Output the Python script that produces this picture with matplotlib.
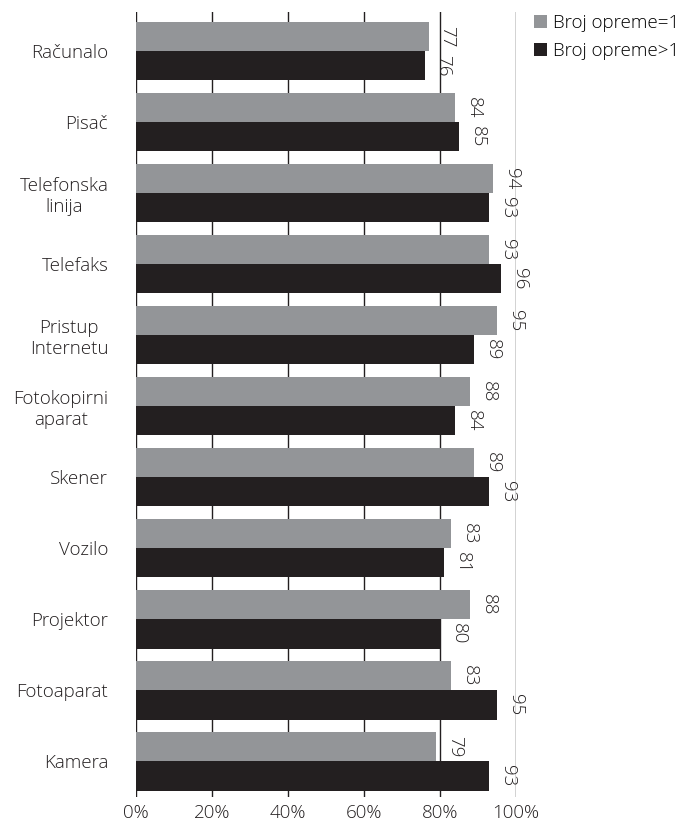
import numpy as np
import matplotlib
matplotlib.use("Agg")
import matplotlib.pyplot as plt

plt.rcParams['font.family'] = ['Open Sans', 'DejaVu Sans']

categories = ["Računalo", "Pisač", "Telefonska\nlinija", "Telefaks", "Pristup\nInternetu",
              "Fotokopirni\naparat", "Skener", "Vozilo", "Projektor", "Fotoaparat", "Kamera"]
jedna = [77, 84, 94, 93, 95, 88, 89, 83, 88, 83, 79]      # Broj opreme=1
vise = [76, 85, 93, 96, 89, 84, 93, 81, 80, 95, 93]       # Broj opreme>1
series_names = ["Broj opreme=1", "Broj opreme>1"]
x_ticks = [0, 20, 40, 60, 80, 100]
x_ticklabels = ["0%", "20%", "40%", "60%", "80%", "100%"]

gray = "#939598"
dark = "#231f20"
fs = 13.5

fig = plt.figure(figsize=(6.82, 8.21), dpi=100)
ax = fig.add_axes([136/682, 1 - 797/821, 380/682, 785/821])

pos = np.arange(len(categories))
h = 0.41
ax.barh(pos - h/2, jedna, height=h, color=gray, zorder=2, label=series_names[0])
ax.barh(pos + h/2, vise, height=h, color=dark, zorder=2, label=series_names[1])

for x in x_ticks:
    ax.axvline(x, color=dark, lw=1.0, zorder=1)

for i in range(len(categories)):
    for val, yy in ((jedna[i], pos[i] - h/2), (vise[i], pos[i] + h/2)):
        ax.annotate(str(val), (val, yy), xytext=(7, 0), textcoords="offset points",
                    rotation=-90, ha="left", va="center", fontsize=fs,
                    color=dark, fontweight="light", zorder=3)

ax.set_xlim(0, 100)
ax.set_ylim(10.5, -0.55)
ax.set_xticks(x_ticks)
ax.set_xticklabels(x_ticklabels, fontsize=fs, color=dark, fontweight="light")
ax.set_yticks(pos)
ax.set_yticklabels(categories, fontsize=fs, color=dark, fontweight="light",
                   multialignment="center")
ax.tick_params(axis="y", length=0, pad=20)
ax.tick_params(axis="x", length=0, pad=5)
for s in ax.spines.values():
    s.set_visible(False)

fig.legend(loc="upper left", bbox_to_anchor=(534/682, 1 - 14/821), frameon=False,
           handlelength=0.7, handleheight=0.7, handletextpad=0.3,
           labelspacing=0.55, borderaxespad=0, borderpad=0,
           prop={"size": fs, "weight": "light"})

fig.savefig("out.png", dpi=100)
